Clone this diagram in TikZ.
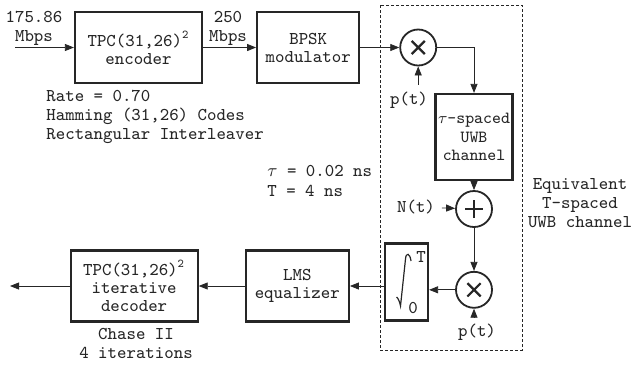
\documentclass[tikz,border=0pt]{standalone}
\usepackage{fontspec}
\usepackage{amsmath}
\usepackage{tikz}
\usetikzlibrary{positioning}
\usetikzlibrary{calc}
\usetikzlibrary{arrows.meta}

\tikzset{
    block/.style={draw, line width=1.1pt, minimum width=#1, minimum height=35.5pt, align=center, inner sep=0pt, font=\ttfamily\fontsize{9}{9}\selectfont},
    mixer/.style={draw, circle, line width=0.9pt, minimum size=18pt, inner sep=0pt},
    times/.style={mixer, path picture={
        \draw [line width=1.1pt] (path picture bounding box.center) +(-3.3pt,-3.3pt) -- +(3.3pt,3.3pt)
            (path picture bounding box.center) +(-3.3pt,3.3pt) -- +(3.3pt,-3.3pt);}},
    plus/.style={mixer, path picture={
        \draw [line width=1.1pt] (path picture bounding box.center) +(-4.5pt,0) -- +(4.5pt,0)
            (path picture bounding box.center) +(0,-4.5pt) -- +(0,4.5pt);}},
    sig/.style={-{Triangle[length=4.5pt,width=3.5pt]}, line width=0.4pt},
    note/.style={align=left, inner sep=0pt, font=\ttfamily\fontsize{9}{9.6}\selectfont},
    lab/.style={font=\ttfamily\fontsize{9}{9.6}\selectfont},
}

\begin{document}
\begin{tikzpicture}[x=0.5pt, y=-0.5pt, color=black!85]
    \useasboundingbox (0,0) rectangle (636,365);

    % transmitter
    \node [block=63.5pt] (enc) at (138.5,47.5) {TPC(31,26)\textsuperscript{2}\\encoder};
    \node [block=51pt, right=26.5pt of enc] (bpsk) {BPSK\\modulator};
    \node [times, right=19.5pt of bpsk] (mixA) {};
    \coordinate (in) at (15,47.5);

    % channel
    \node [block=38.5pt, minimum height=43pt, font=\ttfamily\fontsize{8.5}{9.2}\selectfont] (chan) at (474,137) {$\tau$-spaced\\UWB\\channel};
    \node [plus, below=4.5pt of chan] (adder) {};
    \node [times, below=21.5pt of adder] (mixB) {};

    % receiver
    \node [block=21.5pt, minimum height=38.5pt] (integ) at (406.5,282) {};
    \node [block=51.5pt, left=17pt of integ, yshift=-2pt] (lms) {LMS\\equalizer};
    \node [block=63.5pt, left=23pt of lms] (dec) {TPC(31,26)\textsuperscript{2}\\iterative\\decoder};
    \coordinate (out) at (10,286);

    % integral sign
    \draw [line width=0.6pt] (411,261) .. controls (410,253) and (406,252) .. (405.5,259) -- (400.5,306) .. controls (399.5,301) and (398,298) .. (396.5,297);
    \node [lab, inner sep=0pt] (ulim) at (421,257) {T};
    \node [lab, inner sep=0pt] (llim) at (413,308) {0};

    % labels
    \node [note, align=center] (rin) at (34,28) {175.86\\Mbps};
    \node [note, align=center] (rcod) at (228,28) {250\\Mbps};
    \node [note, anchor=west] (code) at (46,117) {Rate = 0.70\\Hamming (31,26) Codes\\Rectangular Interleaver};
    \node [note, anchor=west] (tau) at (267,181) {$\tau$ = 0.02 ns\\T = 4 ns};
    \node [note, align=center] (equiv) at (580,203) {Equivalent\\T-spaced\\UWB channel};
    \node [note, align=center] (chase) at (136,343.5) {Chase II\\4 iterations};
    \node [lab] (pA) at (409,100) {p(t)};
    \node [lab] (nt) at (416,207) {N(t)};
    \node [lab] (pB) at (477,332) {p(t)};

    % equivalent channel
    \draw [dashed, line width=0.4pt, dash pattern=on 1.5pt off 1pt] (380,5) rectangle (522,350);

    % signal path
    \draw [sig] (in) -- (enc);
    \draw [sig] (enc) -- (bpsk);
    \draw [sig] (bpsk) -- (mixA);
    \draw [sig] (pA.north -| mixA.south) -- (mixA.south);
    \draw [sig] (mixA.east) -| (chan.north);
    \draw [sig] (chan) -- (adder);
    \draw [sig] (nt) -- (adder);
    \draw [sig] (adder) -- (mixB);
    \draw [sig] (pB.north -| mixB.south) -- (mixB.south);
    \draw [sig] (mixB) -- (mixB -| integ.east);
    \draw [sig] (integ.west |- lms) -- (lms);
    \draw [sig] (lms) -- (dec);
    \draw [sig] (dec) -- (out);
\end{tikzpicture}
\end{document}
